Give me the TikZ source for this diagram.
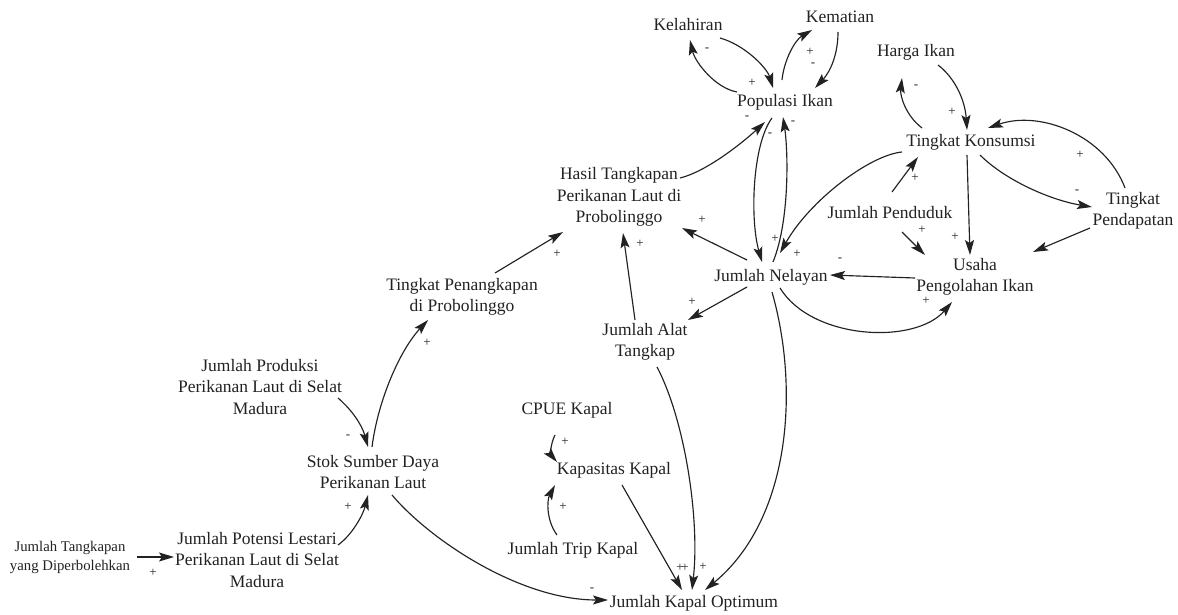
\documentclass[tikz,border=0pt]{standalone}
\usepackage{fontspec}
\setmainfont{Liberation Serif}
\usetikzlibrary{arrows.meta}
\definecolor{ink}{HTML}{222222}
\begin{document}
\begin{tikzpicture}[x=1pt,y=-1pt,
  var/.style={font=\fontsize{17.5}{21.5}\selectfont, align=center, inner sep=1pt, text=ink},
  smallvar/.style={font=\fontsize{14.75}{19}\selectfont, align=center, inner sep=1pt, text=ink},
  link/.style={draw=ink, line width=1.15pt, -{Stealth[length=15pt,width=9pt,inset=3pt]}},
  sgn/.style={font=\fontsize{13}{13}\selectfont, inner sep=0pt, text=ink}]
\useasboundingbox (0,0) rectangle (1178,615);

% variables
\node[var] (kel) at (688,25) {Kelahiran};
\node[var] (kem) at (840,17) {Kematian};
\node[var] (pop) at (785,102) {Populasi Ikan};
\node[var] (harga) at (916,52) {Harga Ikan};
\node[var] (tk) at (971,142) {Tingkat Konsumsi};
\node[var] (tp) at (1133,211) {Tingkat\\Pendapatan};
\node[var] (pend) at (890,213) {Jumlah Penduduk};
\node[var] (usaha) at (975,277) {Usaha\\Pengolahan Ikan};
\node[var] (nel) at (771,277) {Jumlah Nelayan};
\node[var] (hasil) at (619,197) {Hasil Tangkapan\\Perikanan Laut di\\Probolinggo};
\node[var] (tpen) at (462,297) {Tingkat Penangkapan\\di Probolinggo};
\node[var] (alat) at (645,342) {Jumlah Alat\\Tangkap};
\node[var] (cpue) at (567,410) {CPUE Kapal};
\node[var] (kap) at (614,470) {Kapasitas Kapal};
\node[var] (trip) at (573,550) {Jumlah Trip Kapal};
\node[var] (opt) at (694,603) {Jumlah Kapal Optimum};
\node[var] (stok) at (373,472) {Stok Sumber Daya\\Perikanan Laut};
\node[var] (prod) at (260,387) {Jumlah Produksi\\Perikanan Laut di Selat\\Madura};
\node[var] (pot) at (257,560) {Jumlah Potensi Lestari\\Perikanan Laut di Selat\\Madura};
\node[smallvar] (jt) at (70,557) {Jumlah Tangkapan\\yang Diperbolehkan};

% fish population loops
\draw[link] ([shift={(32,13)}]kel.center) .. controls (745,45) and (767,68) .. ([shift={(-12,-14)}]pop.center);
\draw[link] ([shift={(-48,-10)}]pop.center) .. controls (715,88) and (695,62) .. ([shift={(2,15)}]kel.center);
\draw[link] ([shift={(-3,-22)}]pop.center) .. controls (784,60) and (795,40) .. ([shift={(-28,13)}]kem.center);
\draw[link] ([shift={(-2,15)}]kem.center) .. controls (838,55) and (830,72) .. ([shift={(30,-14)}]pop.center);
\draw[link] ([shift={(61,-19)}]hasil.center) .. controls (705,172) and (740,145) .. ([shift={(-20,20)}]pop.center);
\draw[link] ([shift={(-13,16)}]pop.center) .. controls (752,145) and (750,220) .. ([shift={(-9,-15)}]nel.center);
\draw[link] ([shift={(2,-15)}]nel.center) .. controls (790,220) and (788,150) .. ([shift={(-2,15)}]pop.center);

% consumption side
\draw[link] ([shift={(-69,10)}]tk.center) .. controls (870,155) and (810,200) .. ([shift={(9,-24)}]nel.center);
\draw[link] ([shift={(22,13)}]harga.center) .. controls (955,78) and (965,100) .. ([shift={(-4,-12)}]tk.center);
\draw[link] ([shift={(-49,-14)}]tk.center) .. controls (905,115) and (900,95) .. ([shift={(-14,26)}]harga.center);
\draw[link] ([shift={(-8,-23)}]tp.center) .. controls (1105,135) and (1040,110) .. ([shift={(17,-14)}]tk.center);
\draw[link] ([shift={(9,13)}]tk.center) .. controls (1005,180) and (1050,200) .. ([shift={(-41,-4)}]tp.center);
\draw[link] ([shift={(2,-21)}]pend.center) -- ([shift={(-53,15)}]tk.center);
\draw[link] ([shift={(12,19)}]pend.center) -- ([shift={(-50,-22)}]usaha.center);
\draw[link] ([shift={(-4,13)}]tk.center) -- ([shift={(-5,-22)}]usaha.center);
\draw[link] ([shift={(-43,17)}]tp.center) -- ([shift={(58,-25)}]usaha.center);
\draw[link] ([shift={(-60,1)}]usaha.center) -- ([shift={(59,-2)}]nel.center);
\draw[link] ([shift={(9,11)}]nel.center) .. controls (812,340) and (915,345) .. ([shift={(-23,25)}]usaha.center);

% catch side
\draw[link] ([shift={(-24,-17)}]nel.center) -- ([shift={(63,31)}]hasil.center);
\draw[link] ([shift={(-24,10)}]nel.center) -- ([shift={(43,-22)}]alat.center);
\draw[link] ([shift={(-10,-22)}]alat.center) -- ([shift={(4,36)}]hasil.center);
\draw[link] ([shift={(33,-24)}]tpen.center) -- ([shift={(-56,35)}]hasil.center);
\draw[link] ([shift={(-1,-25)}]stok.center) .. controls (378,400) and (400,350) .. ([shift={(-34,23)}]tpen.center);
\draw[link] ([shift={(78,11)}]prod.center) .. controls (352,410) and (362,425) .. ([shift={(-5,-25)}]stok.center);
\draw[link] ([shift={(81,-15)}]pot.center) .. controls (352,535) and (363,515) .. ([shift={(-5,23)}]stok.center);
\draw[link] ([shift={(67,0)}]jt.center) -- ([shift={(-83,-3)}]pot.center);

% fleet side
\draw[link] ([shift={(19,23)}]stok.center) .. controls (430,540) and (520,600) .. ([shift={(-86,-3)}]opt.center);
\draw[link] ([shift={(-12,25)}]cpue.center) .. controls (550,445) and (551,455) .. ([shift={(-57,-8)}]kap.center);
\draw[link] ([shift={(-16,-15)}]trip.center) .. controls (546,520) and (547,500) .. ([shift={(-59,15)}]kap.center);
\draw[link] ([shift={(8,15)}]kap.center) -- ([shift={(-12,-13)}]opt.center);
\draw[link] ([shift={(12,25)}]alat.center) .. controls (685,420) and (700,520) .. ([shift={(-2,-13)}]opt.center);
\draw[link] ([shift={(1,15)}]nel.center) .. controls (800,390) and (790,520) .. ([shift={(11,-13)}]opt.center);

% polarities
\node[sgn] (s1) at (752,83) {+};
\node[sgn] (s2) at (707,50) {-};
\node[sgn] (s3) at (810,52) {+};
\node[sgn] (s4) at (813,65) {-};
\node[sgn] (s5) at (747,118) {-};
\node[sgn] (s6) at (770,135) {-};
\node[sgn] (s6b) at (775,239) {+};
\node[sgn] (s7) at (793,123) {-};
\node[sgn] (s8) at (797,254) {+};
\node[sgn] (s9) at (952,112) {+};
\node[sgn] (s10) at (916,87) {-};
\node[sgn] (s11) at (1080,155) {+};
\node[sgn] (s12) at (1077,192) {-};
\node[sgn] (s13) at (915,178) {+};
\node[sgn] (s14) at (922,230) {+};
\node[sgn] (s15) at (955,237) {+};
\node[sgn] (s17) at (840,260) {-};
\node[sgn] (s18) at (926,301) {+};
\node[sgn] (s19) at (702,220) {+};
\node[sgn] (s20) at (692,302) {+};
\node[sgn] (s21) at (640,244) {+};
\node[sgn] (s22) at (557,254) {+};
\node[sgn] (s23) at (427,343) {+};
\node[sgn] (s24) at (348,437) {-};
\node[sgn] (s25) at (348,507) {+};
\node[sgn] (s26) at (153,573) {+};
\node[sgn] (s27) at (592,590) {-};
\node[sgn] (s28) at (565,442) {+};
\node[sgn] (s29) at (563,507) {+};
\node[sgn] (s30) at (680,568) {+};
\node[sgn] (s31) at (685,568) {+};
\node[sgn] (s32) at (703,567) {+};
\end{tikzpicture}
\end{document}
